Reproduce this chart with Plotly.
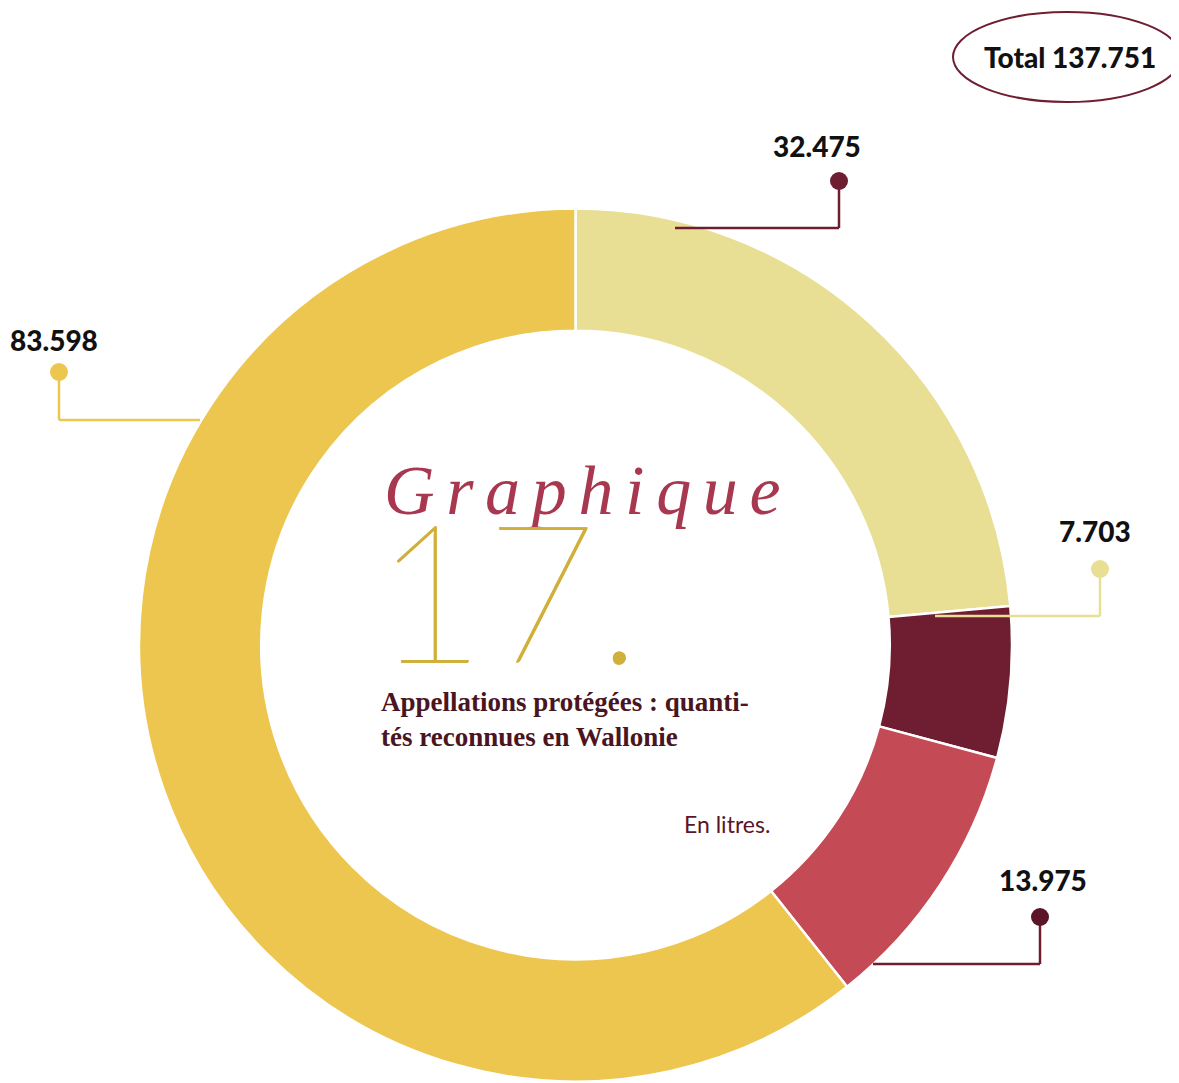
"""Graphique 17 : appellations protégées, quantités reconnues en Wallonie (en litres)."""

import plotly.graph_objects as go

W, H = 1179, 1083
OFF = 8  # marge de la page autour du graphique

# données (en litres), dans l'ordre horaire depuis midi
values = [32475, 7703, 13975, 83598]
slice_colors = ["#E8DE94", "#6E1E30", "#C44A55", "#EDC64F"]
dot_colors = ["#6E1E30", "#E8DE94", "#5C1428", "#EDC64F"]
line_colors = ["#6E1E30", "#E8DE94", "#6E1E30", "#EDC64F"]

# position des étiquettes (pixels écran) : texte, pastille, extrémité du trait de rappel
label_pos = [(817, 146), (1095, 531), (1043, 880), (54, 340)]
dot_pos = [(839, 181), (1100, 569), (1040, 917), (59, 372)]
leader_end = [(675, 228), (935, 616), (873, 964), (200, 420)]


def fmt(v):
    return f"{v:,}".replace(",", ".")


total = sum(values)

fig = go.Figure()

# donut : centre (575, 645), rayon 436 px (coordonnées écran)
cx, cy, r = 575.5 - OFF, 645 - OFF, 436.5
fig.add_trace(
    go.Pie(
        values=values,
        labels=[fmt(v) for v in values],
        hole=0.72,
        sort=False,
        direction="clockwise",
        rotation=0,
        marker=dict(colors=slice_colors, line=dict(color="white", width=2.5)),
        textinfo="none",
        hoverinfo="label+percent",
        showlegend=False,
        domain=dict(x=[(cx - r) / W, (cx + r) / W], y=[1 - (cy + r) / H, 1 - (cy - r) / H]),
    )
)

# axes invisibles en pixels écran pour placer les décorations
fig.update_xaxes(range=[OFF, W + OFF], visible=False, domain=[0, 1], fixedrange=True)
fig.update_yaxes(range=[H + OFF, OFF], visible=False, domain=[0, 1], fixedrange=True)

label_font = dict(family="Lato", size=28, color="#111111", weight=900)

shapes = []
for v, (lx, ly), (dx, dy), (ex, ey), dc, lc in zip(
    values, label_pos, dot_pos, leader_end, dot_colors, line_colors
):
    shapes.append(dict(type="line", x0=dx, y0=dy, x1=dx, y1=ey,
                       line=dict(color=lc, width=2.5), layer="above"))
    shapes.append(dict(type="line", x0=dx, y0=ey, x1=ex, y1=ey,
                       line=dict(color=lc, width=2.5), layer="above"))
    shapes.append(dict(type="circle", x0=dx - 9, y0=dy - 9, x1=dx + 9, y1=dy + 9,
                       fillcolor=dc, line=dict(width=0), layer="above"))
    fig.add_annotation(
        x=lx, y=ly, xref="x", yref="y", text=fmt(v), showarrow=False, font=label_font,
    )

# total dans une ellipse
shapes.append(dict(type="circle", x0=953, y0=12, x1=1181, y1=102,
                   line=dict(color="#6E1E30", width=2), layer="above"))
fig.add_annotation(
    x=1070, y=57, xref="x", yref="y", text=f"Total {fmt(total)}", showarrow=False,
    font=label_font,
)

# titre au centre du donut
sp = "\u2006"
fig.add_annotation(
    x=382, y=531, xref="x", yref="y", xanchor="left", yanchor="bottom",
    text="<i>" + sp.join("Graphique") + "</i>", showarrow=False,
    font=dict(family="Liberation Serif", size=70, color="#A8384F"),
)
gold = "#D1AF3B"
fig.add_annotation(
    x=372, y=587, xref="x", yref="y", xanchor="left", yanchor="middle",
    text="17.", showarrow=False,
    font=dict(family="Lato", size=192, color=gold, weight=100,
              shadow=f"0.8px 0 0 {gold}, 0 0.8px 0 {gold}"),
)
fig.add_annotation(
    x=379, y=719, xref="x", yref="y", xanchor="left", yanchor="middle", align="left",
    text="<b>Appellations protégées : quanti-<br>tés reconnues en Wallonie</b>",
    showarrow=False,
    font=dict(family="Liberation Serif", size=27, color="#4A1520"),
)
fig.add_annotation(
    x=772, y=824, xref="x", yref="y", xanchor="right", yanchor="middle",
    text="En litres.", showarrow=False,
    font=dict(family="Lato", size=23, color="#5C1428"),
)

fig.update_layout(
    width=W,
    height=H,
    margin=dict(l=0, r=0, t=0, b=0),
    paper_bgcolor="white",
    plot_bgcolor="rgba(0,0,0,0)",
    shapes=shapes,
)

fig.write_html("out.html")
